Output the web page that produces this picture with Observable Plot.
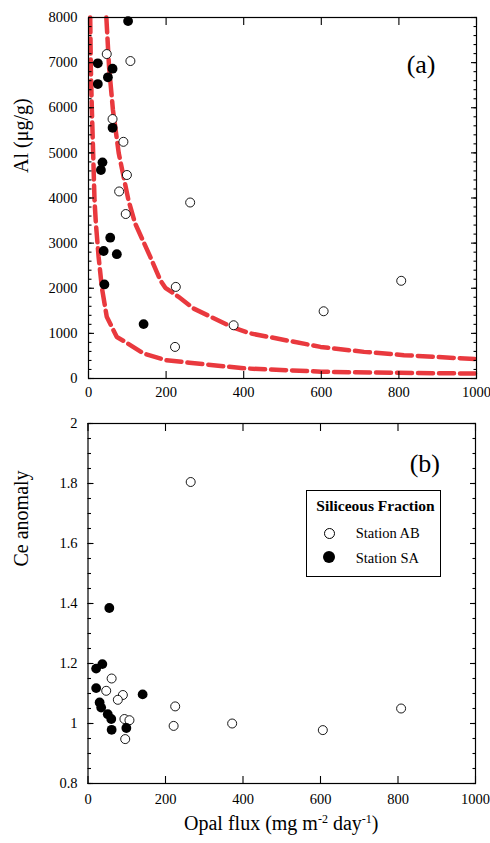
<!DOCTYPE html>
<html>
<head>
<meta charset="utf-8">
<script src="https://cdn.jsdelivr.net/npm/d3@7"></script>
<script src="https://cdn.jsdelivr.net/npm/@observablehq/plot@0.6"></script>
<style>
  html, body { margin: 0; padding: 0; background: #fff; }
  #page { position: relative; width: 490px; height: 843px; font-family: "Liberation Serif", "Times New Roman", serif; color: #000; }
  #page svg { display: block; }
  .xlabel { position: absolute; left: 87.5px; width: 387.5px; top: 813px; text-align: center; font-size: 20px; line-height: 20px; white-space: nowrap; }
  .xlabel sup { font-size: 12px; line-height: 0; vertical-align: baseline; position: relative; top: -7px; }
  .legend { position: absolute; left: 306px; top: 490px; width: 135px; height: 87px; box-sizing: border-box; border: 1.3px solid #000; background: #fff; }
  .lg-title { position: absolute; left: 4px; right: 0; top: 7.2px; text-align: center; font-weight: bold; font-size: 15.5px; line-height: 15.5px; white-space: nowrap; }
  .lg-mark { position: absolute; box-sizing: border-box; border-radius: 50%; }
  .lg-mark.open { width: 11px; height: 11px; border: 1.3px solid #000; background: #fff; }
  .lg-mark.filled { width: 12px; height: 12px; background: #000; }
  .lg-text { position: absolute; left: 48.7px; font-size: 14.5px; line-height: 14.5px; white-space: nowrap; }
</style>
</head>
<body>
<div id="page"></div>
<script>
// Opal flux (mg m-2 day-1) and Al content of the siliceous fraction, panel (a)
const abFluxA = [47, 108, 62, 90, 99, 79, 262, 96, 225, 223, 374, 606, 806];
const abAl    = [7190, 7035, 5750, 5245, 4510, 4145, 3900, 3645, 2030, 700, 1180, 1490, 2165];
const saFluxA = [102, 24, 62, 50, 24, 62, 36, 32, 56, 39, 73, 41, 142];
const saAl    = [7920, 6985, 6865, 6675, 6525, 5555, 4790, 4620, 3120, 2825, 2755, 2085, 1205];

// Mixing curves drawn over panel (a)
const upperFlux = [46, 53, 63, 78, 103, 120, 159, 185, 198, 232, 271, 370, 417, 598, 710, 813, 1000];
const upperAl   = [8000, 6900, 5950, 4990, 3950, 3440, 2700, 2180, 2010, 1810, 1550, 1140, 1000, 700, 590, 517, 428];
const lowerFlux = [4.4, 6, 8.7, 12, 15.5, 19, 26, 34.5, 47, 73, 95, 142, 200, 260, 400, 600, 800, 1000];
const lowerAl   = [8000, 6900, 5950, 4990, 3950, 3440, 2700, 2010, 1370, 920, 810, 555, 405, 350, 225, 150, 125, 110];

// Ce anomaly, panel (b)
const abFluxB = [265, 61, 47, 90, 77, 225, 94, 107, 221, 96, 372, 606, 808];
const abCe    = [1.805, 1.150, 1.109, 1.095, 1.079, 1.057, 1.015, 1.011, 0.992, 0.948, 1.000, 0.978, 1.050];
const saFluxB = [55, 37, 21, 21, 141, 30, 34, 51, 60, 99, 61];
const saCe    = [1.385, 1.198, 1.183, 1.118, 1.097, 1.070, 1.053, 1.031, 1.015, 0.985, 0.979];

// Tick values and text
const fluxTicks = [0, 200, 400, 600, 800, 1000];
const alTicks = [0, 1000, 2000, 3000, 4000, 5000, 6000, 7000, 8000];
const alMinorTicks = d3.range(0, 8001, 200);
const ceTicks = [0.8, 1, 1.2, 1.4, 1.6, 1.8, 2];
const ceMinorTicks = d3.range(16, 41).map(i => i / 20);
const legendTitle = "Siliceous Fraction";
const stationNames = ["Station AB", "Station SA"];

const font = "'Liberation Serif', 'Times New Roman', serif";
const red = "#e9393e";
const dash = "15,6";

const toRows = (xs, ys) => xs.map((x, i) => ({x, y: ys[i]}));

// Inward-pointing ticks on all four sides, labels on the left and bottom only
function frameAxes(yTicks, yMinor, xPad, yPad) {
  const noText = {fill: "none", label: null, stroke: "#000", strokeWidth: 1.1};
  return [
    Plot.axisX({ticks: fluxTicks, tickSize: 7, insetBottom: 7, ...noText}),
    Plot.axisX({anchor: "top", ticks: fluxTicks, tickSize: 7, insetTop: 7, ...noText}),
    Plot.axisY({ticks: yTicks, tickSize: 6, insetLeft: 6, ...noText}),
    Plot.axisY({ticks: yMinor, tickSize: 3.5, insetLeft: 3.5, ...noText}),
    Plot.axisY({anchor: "right", ticks: yTicks, tickSize: 6, insetRight: 6, ...noText}),
    Plot.axisY({anchor: "right", ticks: yMinor, tickSize: 3.5, insetRight: 3.5, ...noText}),
    Plot.axisX({ticks: fluxTicks, tickSize: 0, tickPadding: xPad, tickFormat: d => String(d), label: null}),
    Plot.axisY({ticks: yTicks, tickSize: 0, tickPadding: yPad, tickFormat: d => String(d), label: null}),
    Plot.frame({stroke: "#000", strokeWidth: 1.2})
  ];
}

const plotA = Plot.plot({
  width: 490, height: 400,
  marginLeft: 88, marginRight: 14, marginTop: 17, marginBottom: 22,
  style: {fontFamily: font, fontSize: "14.5px", color: "#000", background: "#fff", overflow: "visible"},
  x: {domain: [0, 1000]},
  y: {domain: [0, 8000]},
  marks: [
    Plot.line(toRows(lowerFlux, lowerAl), {x: "x", y: "y", stroke: red, strokeWidth: 4.5, strokeDasharray: dash}),
    Plot.line(toRows(upperFlux, upperAl), {x: "x", y: "y", stroke: red, strokeWidth: 4.5, strokeDasharray: dash}),
    Plot.dot(toRows(abFluxA, abAl), {x: "x", y: "y", r: 4.5, stroke: "#000", strokeWidth: 0.9, fill: "#fff"}),
    Plot.dot(toRows(saFluxA, saAl), {x: "x", y: "y", r: 4.9, fill: "#000", stroke: "none"}),
    ...frameAxes(alTicks, alMinorTicks, 8.4, 11),
    Plot.text(["(a)"], {text: d => d, frameAnchor: "top-right", dx: -41, dy: 37, fontSize: 26}),
    Plot.text(["Al (μg/g)"], {text: d => d, frameAnchor: "left", rotate: -90, dx: -67, dy: -25, fontSize: 20})
  ]
});

const plotB = Plot.plot({
  width: 490, height: 410,
  marginLeft: 87.5, marginRight: 15, marginTop: 23, marginBottom: 27,
  style: {fontFamily: font, fontSize: "14.5px", color: "#000", background: "#fff", overflow: "visible"},
  x: {domain: [0, 1000]},
  y: {domain: [0.8, 2]},
  marks: [
    Plot.dot(toRows(abFluxB, abCe), {x: "x", y: "y", r: 4.5, stroke: "#000", strokeWidth: 0.9, fill: "#fff"}),
    Plot.dot(toRows(saFluxB, saCe), {x: "x", y: "y", r: 4.9, fill: "#000", stroke: "none"}),
    ...frameAxes(ceTicks, ceMinorTicks, 10.5, 10.5),
    Plot.text(["(b)"], {text: d => d, frameAnchor: "top-right", dx: -35.5, dy: 30, fontSize: 26}),
    Plot.text(["Ce anomaly"], {text: d => d, frameAnchor: "left", rotate: -90, dx: -66, dy: -37, fontSize: 20})
  ]
});

const page = document.getElementById("page");
page.appendChild(plotA);
page.appendChild(plotB);

// Axis title with superscript units
const xlabel = document.createElement("div");
xlabel.className = "xlabel";
xlabel.innerHTML = "Opal flux (mg m<sup>-2</sup> day<sup>-1</sup>)";
page.appendChild(xlabel);

// Legend for the station symbols
const legend = document.createElement("div");
legend.className = "legend";
const title = document.createElement("div");
title.className = "lg-title";
title.textContent = legendTitle;
legend.appendChild(title);
const markPos = [{left: 16.5, top: 36.5, cls: "open"}, {left: 16, top: 60, cls: "filled"}];
const textTops = [34.9, 59.9];
stationNames.forEach((name, i) => {
  const m = document.createElement("span");
  m.className = "lg-mark " + markPos[i].cls;
  m.style.left = markPos[i].left + "px";
  m.style.top = markPos[i].top + "px";
  legend.appendChild(m);
  const t = document.createElement("div");
  t.className = "lg-text";
  t.style.top = textTops[i] + "px";
  t.textContent = name;
  legend.appendChild(t);
});
page.appendChild(legend);
</script>
</body>
</html>
